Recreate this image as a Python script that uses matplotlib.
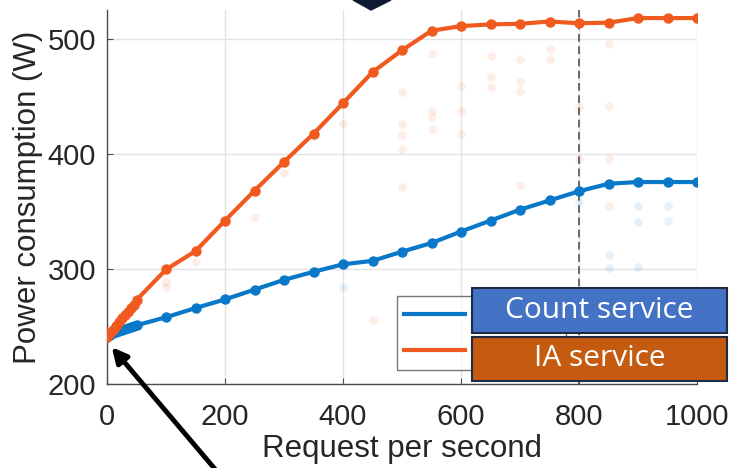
import matplotlib
matplotlib.use("Agg")
import matplotlib.pyplot as plt
from matplotlib.patches import Polygon, Rectangle

# ---------------- data ----------------
rps = [0, 5, 10, 15, 20, 25, 30, 35, 40, 45, 50, 100, 150, 200, 250, 300, 350,
       400, 450, 500, 550, 600, 650, 700, 750, 800, 850, 900, 950, 1000]
count_power = [241, 242.5, 244, 245, 246, 247, 248, 249, 249.5, 250.5, 251,
               258, 266, 273.5, 282, 290.5, 297.5, 304, 307, 315, 322.5,
               332.5, 342, 351.5, 359.5, 367.5, 374, 375.5, 375.5, 375.5]
ia_power = [241, 244, 247, 250, 254, 257, 260, 263, 266, 269, 273,
            299.5, 315.5, 342, 368, 393, 417.5, 444, 471, 490, 507,
            511, 512.5, 513, 515, 513.5, 514, 518, 518, 518]

# faint outlier runs (x, y)
ia_out_x = [100, 100, 150, 250, 300, 400, 450, 500, 500, 500, 500, 500, 550, 550, 550, 550,
            600, 600, 600, 650, 650, 650, 700, 700, 700, 700, 750, 750, 800, 800,
            850, 850, 850, 850]
ia_out_y = [288.5, 284.5, 306, 345, 383, 426, 256, 453.5, 426, 416, 404.5, 371, 437.5, 432, 421.5, 486.5,
            459, 437.5, 417.5, 485, 466.5, 458, 482.5, 462, 455, 372.5, 491, 482.5, 440.5, 395.5,
            495.5, 442, 395.5, 355]
count_out_x = [400, 800, 850, 850, 900, 900, 900, 950, 950]
count_out_y = [284.5, 358, 312, 300.5, 355, 341, 301.5, 355, 342]

x_ticks = [0, 200, 400, 600, 800, 1000]
y_ticks = [200, 300, 400, 500]
knee_rps = 800
series_labels = ["Count service", "IA service"]

# ---------------- style ----------------
BLUE = "#0A78C8"
ORANGE = "#F05A1E"
TXT = "#262626"
FONT = "Liberation Sans"
W, H = 733, 468

fig = plt.figure(figsize=(7.33, 4.68), dpi=100)
ax = fig.add_axes([107/W, 84/H, (697-107)/W, (458-84)/H])

ax.set_xlim(0, 1000)
ax.set_ylim(200, 525)

ax.scatter(ia_out_x, ia_out_y, s=40, color=ORANGE, alpha=0.1, lw=0, zorder=2)
ax.scatter(count_out_x, count_out_y, s=40, color=BLUE, alpha=0.1, lw=0, zorder=2)

l1, = ax.plot(rps, count_power, color=BLUE, lw=3, marker="o", ms=6.5, zorder=4)
l2, = ax.plot(rps, ia_power, color=ORANGE, lw=3, marker="o", ms=6.5, zorder=4)

ax.axvline(knee_rps, color="#444444", lw=1.1, ls=(0, (5, 3)), zorder=3)

ax.set_xticks(x_ticks)
ax.set_yticks(y_ticks)
ax.grid(True, color="#e3e3e3", lw=1)
ax.set_axisbelow(True)
for s in ["top", "right"]:
    ax.spines[s].set_visible(False)
for s in ["left", "bottom"]:
    ax.spines[s].set_color("#4d4d4d")
    ax.spines[s].set_linewidth(1.0)
ax.tick_params(direction="in", length=4, color="#4d4d4d", labelsize=21,
               labelcolor=TXT)
ax.tick_params(axis="x", pad=14)
ax.tick_params(axis="y", pad=8)
for lab in ax.get_xticklabels() + ax.get_yticklabels():
    lab.set_fontfamily(FONT)

ax.set_xlabel("Request per second", fontsize=22.5, color=TXT, family=FONT, labelpad=2)
ax.set_ylabel("Power consumption (W)", fontsize=22.5, color=TXT, family=FONT, labelpad=3)

# MATLAB-style legend box (partly covered by coloured labels)
leg = ax.legend([l1, l2], ["          ", "          "], loc="lower left",
                bbox_to_anchor=((397-107)/590, (384-370)/(384-10)),
                handlelength=2.6, fontsize=17, frameon=True, fancybox=False,
                borderaxespad=0, labelspacing=0.5, borderpad=0.3)
leg.get_frame().set_edgecolor("#555555")
leg.get_frame().set_linewidth(1.0)
for h in leg.legend_handles:
    h.set_marker("")

# coloured label boxes
def box(x0, y0, x1, y1, fc, text):
    r = Rectangle((x0/W, 1-y1/H), (x1-x0)/W, (y1-y0)/H, transform=fig.transFigure,
                  facecolor=fc, edgecolor="#1f2a44", lw=1.5, zorder=10)
    fig.patches.append(r)
    fig.text((x0+x1)/2/W, 1-(y0+y1)/2/H, text, ha="center", va="center",
             color="white", fontsize=21.5, family="Open Sans", zorder=11)

box(472, 288, 727, 333, "#4472C4", series_labels[0])
box(472, 337, 727, 381, "#C55A11", series_labels[1])

# dark chevron at top
chev = Polygon([(353/W, 1.0), (391/W, 1.0), (371/W, 1-10/H)], closed=True,
               transform=fig.transFigure, facecolor="#0e1a33", edgecolor="#0e1a33",
               zorder=10)
fig.patches.append(chev)

# arrow pointing at the idle-power start
ax.annotate("", xy=(8, 232), xycoords="data",
            xytext=(218/W, -0.01), textcoords="figure fraction",
            arrowprops=dict(arrowstyle="-|>,head_length=0.9,head_width=0.45",
                            color="black", lw=3.5, shrinkA=0, shrinkB=0),
            annotation_clip=False, zorder=12)

fig.savefig("out.png", dpi=100)
